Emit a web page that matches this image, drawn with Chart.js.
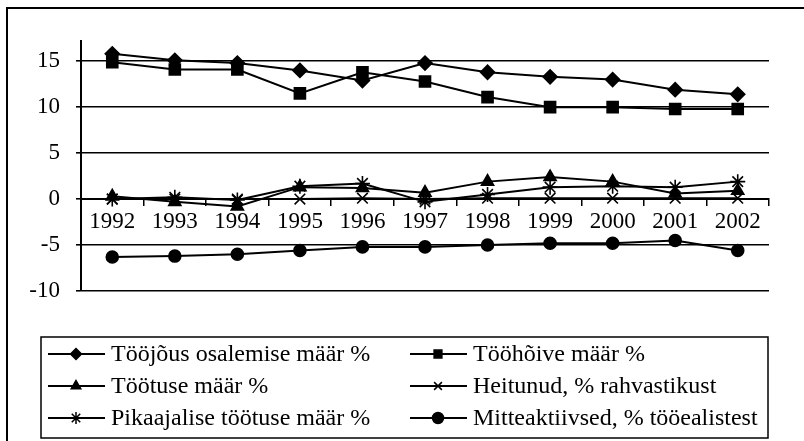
<!DOCTYPE html>
<html>
<head>
<meta charset="utf-8">
<script src="https://cdn.jsdelivr.net/npm/chart.js@4/dist/chart.umd.min.js"></script>
<style>
  body { margin: 0; background: #fff; }
  #wrap { width: 804px; height: 441px; }
</style>
</head>
<body>
<div id="wrap"><canvas id="LineChart" width="804" height="441"></canvas></div>
<script>
const years = ['1992', '1993', '1994', '1995', '1996', '1997', '1998', '1999', '2000', '2001', '2002'];
const yTicks = [-10, -5, 0, 5, 10, 15];

const osalemine = [15.8, 15.1, 14.8, 14.0, 12.9, 14.8, 13.8, 13.3, 13.0, 11.9, 11.4];
const tooHoive = [14.9, 14.1, 14.1, 11.5, 13.8, 12.8, 11.1, 10.0, 10.0, 9.8, 9.8];
const tootus = [0.3, -0.3, -0.8, 1.3, 1.2, 0.7, 1.9, 2.4, 1.9, 0.6, 0.9];
const heitunud = [0.0, 0.0, 0.0, 0.0, 0.1, 0.0, 0.1, 0.1, 0.1, 0.1, 0.1];
const pikaajaline = [0.0, 0.2, -0.1, 1.4, 1.7, -0.3, 0.5, 1.3, 1.4, 1.3, 1.9];
const mitteaktiivsed = [-6.3, -6.2, -6.0, -5.6, -5.2, -5.2, -5.0, -4.8, -4.8, -4.5, -5.6];

const serif = 'Liberation Serif, Times New Roman, serif';

function series(label, data, style, radius, legendRadius) {
    return {
        label: label,
        data: data,
        borderColor: '#000',
        borderWidth: 2,
        pointStyle: style,
        pointRadius: radius,
        pointHoverRadius: radius,
        pointBackgroundColor: '#000',
        pointBorderColor: '#000',
        pointBorderWidth: 1.6,
        legendRadius: legendRadius,
        tension: 0,
        fill: false
    };
}

// frame round the whole chart, cut off at right and bottom like the picture
const framePlugin = {
    id: 'frame',
    beforeDraw(chart) {
        const c = chart.ctx;
        c.save();
        c.fillStyle = '#fff';
        c.fillRect(0, 0, chart.width, chart.height);
        c.strokeStyle = '#000';
        c.lineWidth = 2;
        c.strokeRect(7, 8, chart.width + 20, chart.height + 20);
        c.restore();
    }
};

// legend box: two columns, line with marker then label
const legendBox = {
    id: 'legendBox',
    afterDraw(chart) {
        const c = chart.ctx;
        const helpers = Chart.helpers;
        c.save();
        c.strokeStyle = '#000';
        c.lineWidth = 1.5;
        c.strokeRect(41, 337, 727, 101);
        c.font = '24px ' + serif;
        c.textBaseline = 'middle';
        chart.data.datasets.forEach((ds, i) => {
            const col = i % 2;
            const row = Math.floor(i / 2);
            const x0 = col ? 410 : 48;
            const y = 354 + row * 32;
            c.beginPath();
            c.strokeStyle = '#000';
            c.lineWidth = 1.8;
            c.moveTo(x0, y);
            c.lineTo(x0 + 57, y);
            c.stroke();
            if (helpers && helpers.drawPoint) {
                c.fillStyle = '#000';
                c.lineWidth = 1.5;
                helpers.drawPoint(c, { pointStyle: ds.pointStyle, radius: ds.legendRadius, rotation: 0, borderWidth: 1.5 }, x0 + 28, y);
            }
            c.fillStyle = '#000';
            c.fillText(ds.label, x0 + 63, y + 1);
        });
        c.restore();
    }
};

const ctx = document.getElementById('LineChart');

new Chart(ctx, {
    type: 'line',
    data: {
        labels: years,
        datasets: [
            series('Tööjõus osalemise määr %', osalemine, 'rectRot', 7, 5.5),
            series('Tööhõive määr %', tooHoive, 'rect', 7.8, 5.5),
            series('Töötuse määr %', tootus, 'triangle', 7, 5.5),
            series('Heitunud, % rahvastikust', heitunud, 'crossRot', 7.5, 5.5),
            series('Pikaajalise töötuse määr %', pikaajaline, 'star', 7.5, 6),
            series('Mitteaktiivsed, % tööealistest', mitteaktiivsed, 'circle', 6, 5.5)
        ]
    },
    options: {
        responsive: false,
        animation: false,
        devicePixelRatio: 1,
        layout: {
            padding: { top: 41, right: 35, bottom: 150, left: 0 }
        },
        plugins: {
            legend: { display: false },
            tooltip: { enabled: false }
        },
        scales: {
            x: {
                type: 'category',
                position: { y: 0 },
                offset: true,
                grid: {
                    display: true,
                    drawOnChartArea: false,
                    drawTicks: true,
                    tickLength: 6,
                    offset: true,
                    color: '#000',
                    lineWidth: 1.5
                },
                border: { display: true, color: '#000', width: 2 },
                ticks: {
                    color: '#000',
                    font: { family: serif, size: 23 },
                    padding: 3,
                    maxRotation: 0,
                    autoSkip: false
                }
            },
            y: {
                min: -10,
                max: 17.2,
                afterBuildTicks(scale) {
                    scale.ticks = yTicks.map(v => ({ value: v }));
                },
                afterFit(scale) {
                    scale.width = 81;
                },
                grid: {
                    color: '#000',
                    lineWidth: 1.6,
                    tickLength: 5,
                    drawTicks: true
                },
                border: { display: true, color: '#000', width: 2 },
                ticks: {
                    color: '#000',
                    font: { family: serif, size: 23 },
                    padding: 16
                }
            }
        }
    },
    plugins: [framePlugin, legendBox]
});
</script>
</body>
</html>
